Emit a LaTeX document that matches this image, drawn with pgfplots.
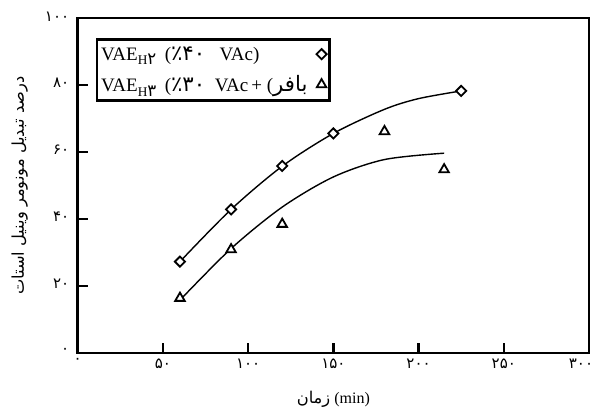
\documentclass[border=0pt]{standalone}
\usepackage{fontspec}
\setmainfont{Liberation Serif}
\newfontfamily\arabicfont[Script=Arabic, Scale=1.25]{DejaVu Sans}
\TeXXeTstate=1
\usepackage{pgfplots}
\pgfplotsset{compat=1.18}

\pgfplotstableread{
x y
60 27.3
90 42.9
120 55.9
150 65.6
225 78.3
}\dataA
\pgfplotstableread{
x y
60 16.4
90 30.9
120 38.5
180 66.2
215 54.8
}\dataB

\newcommand{\fa}[1]{{\arabicfont\fontsize{17}{19}\selectfont #1}}

\begin{document}
\begin{tikzpicture}
\begin{axis}[
  at={(0,0)}, anchor=south west,
  scale only axis, width=511.3pt, height=334.7pt,
  xmin=0, xmax=300, ymin=0, ymax=100,
  axis line style={line width=2.4pt},
  tick pos=left, tick align=inside,
  major tick length=10pt,
  tick style={line width=2.4pt, black},
  xtick={0,50,100,150,200,250,300},
  ytick={0,20,40,60,80,100},
  xticklabels={۰,۵۰,۱۰۰,۱۵۰,۲۰۰,۲۵۰,{\hspace*{-16pt}۳۰۰}},
  yticklabels={۰,۲۰,۴۰,۶۰,۸۰,۱۰۰},
  tick label style={font=\arabicfont\fontsize{12}{14}\selectfont},
  xticklabel style={yshift=-2pt},
  yticklabel style={xshift=-5pt, yshift=2pt},
  xlabel={{\arabicfont\fontsize{13}{16}\selectfont\beginR زمان\endR} (min)},
  xlabel style={font=\fontsize{16}{19}\selectfont, at={(axis description cs:0.5,0)}, anchor=center, yshift=-46pt},
  ylabel={\arabicfont\beginR درصد تبدیل مونومر وینیل استات\endR},
  ylabel style={font=\fontsize{13}{16}\selectfont, at={(axis description cs:0,0.5)}, anchor=center, yshift=58pt},
  legend plot pos=right,
  legend cell align=left,
  legend style={at={(0.0358,0.94)}, anchor=north west, draw=black, line width=2.4pt,
    font=\fontsize{19}{22}\selectfont, inner xsep=3pt, inner ysep=6pt, row sep=12pt, column sep=8pt,
    nodes={inner sep=1pt}},
  clip=false,
]
\addplot[smooth, line width=1.4pt, black, forget plot] coordinates {
(60,27.3) (90,42.9) (120,55.8) (150,65.6) (180,72.8) (200,76.0) (225,78.3)};
\addplot[smooth, line width=1.4pt, black, forget plot] coordinates {
(60,15.8) (90,31.2) (120,43.6) (150,52.6) (180,57.8) (215,59.7)};
\addplot[only marks, mark=square*, mark size=3.6pt,
  mark options={rotate=45, fill=white, draw=black, line width=1.8pt}] table {\dataA};
\addlegendentry{VAE\textsubscript{H{\arabicfont ۲}}\, (\fa{٪۴۰}\ \ \ VAc)}
\addplot[only marks, mark=triangle*, mark size=5.5pt,
  mark options={fill=white, draw=black, line width=1.8pt}] table {\dataB};
\addlegendentry{VAE\textsubscript{H{\arabicfont ۳}}\, (\fa{٪۳۰}\ \ VAc\,+\ (\fa{\beginR بافر\endR}}
\end{axis}
\pgfresetboundingbox
\useasboundingbox (-77.7pt,-57pt) rectangle (520.3pt,353pt);
\end{tikzpicture}
\end{document}
